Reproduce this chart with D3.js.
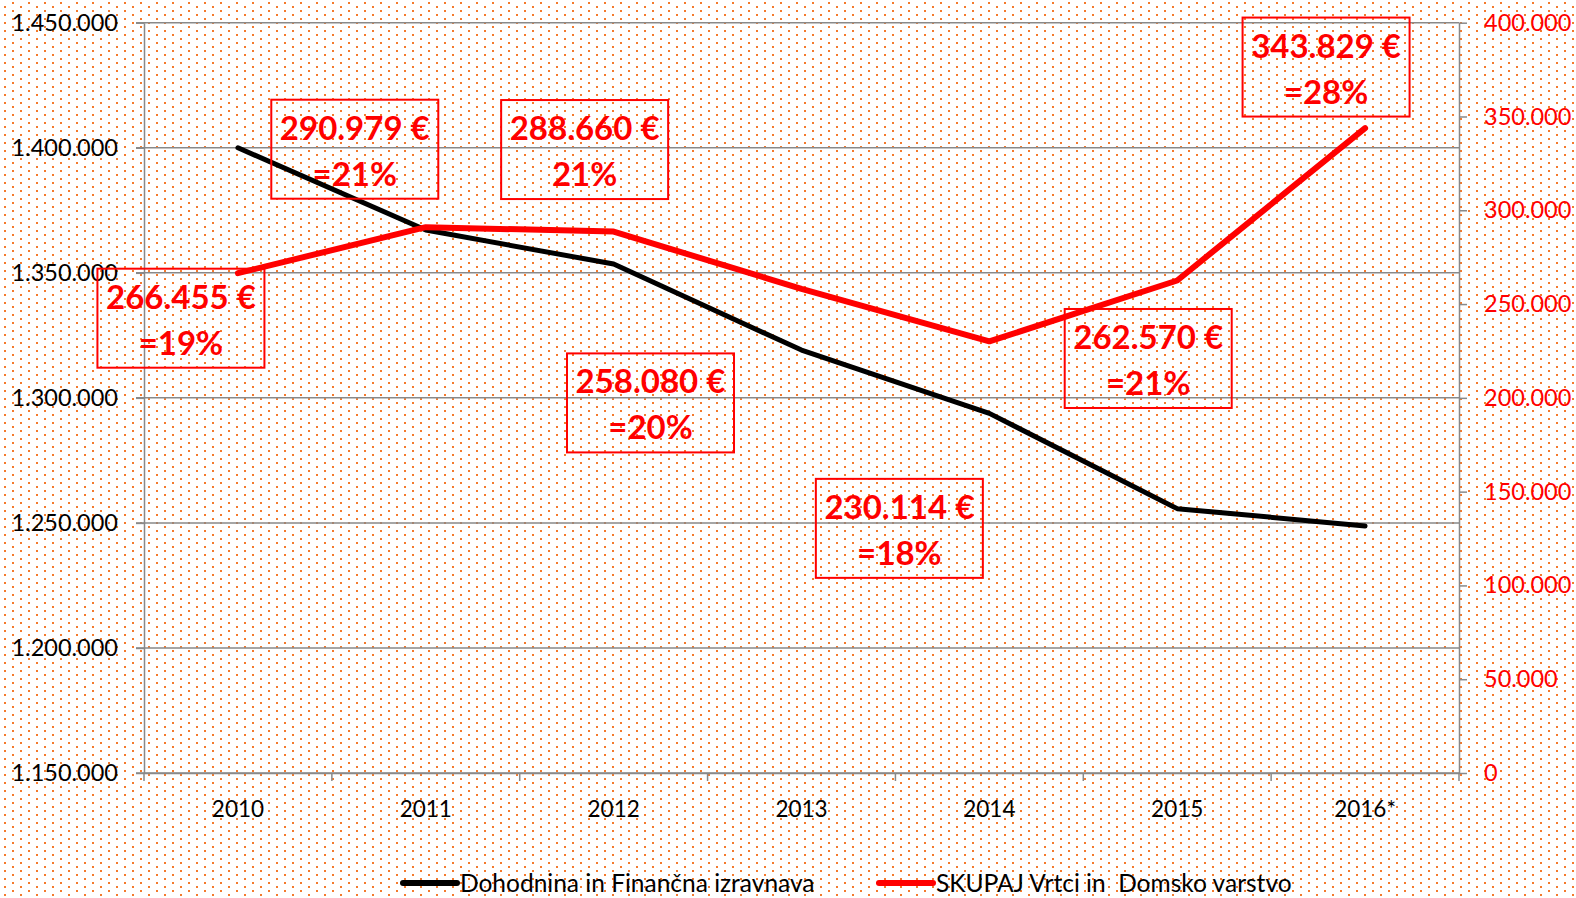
<!DOCTYPE html>
<html>
<head>
<meta charset="utf-8">
<script src="https://cdn.jsdelivr.net/npm/d3@7"></script>
<style>
  body { margin: 0; background: #fff; overflow: hidden; }
  text { font-family: Lato, "Open Sans", sans-serif; }
</style>
</head>
<body>
<div id="container"></div>
<script>
// data
let years = ["2010", "2011", "2012", "2013", "2014", "2015", "2016*"];
let dohodnina = [1400000, 1367100, 1353500, 1319100, 1293800, 1255700, 1248800];
let vrtci = [266455, 290979, 288660, 258080, 230114, 262570, 343829];
let shares = ["=19%", "=21%", "21%", "=20%", "=18%", "=21%", "=28%"];
let leftTicks = [1150000, 1200000, 1250000, 1300000, 1350000, 1400000, 1450000];
let rightTicks = [0, 50000, 100000, 150000, 200000, 250000, 300000, 350000, 400000];
let seriesNames = ["Dohodnina in Finančna izravnava", "SKUPAJ Vrtci in  Domsko varstvo"];

// where each value box sits, relative to its point (box centre)
let labelOffsets = [[-57, 45], [-71, -78], [-29, -82], [-151, 114], [-90, 187], [-29, 78], [-39, -61]];

let W = 1576, H = 898;
let plotLeft = 144, plotRight = 1459, plotTop = 22.7, plotBottom = 773;
let grey = "#898989";

let loc = d3.formatLocale({decimal: ",", thousands: ".", grouping: [3], currency: ["", " €"]});
let fmt = loc.format(",");

let svg = d3.select("#container")
    .append("svg")
    .attr("width", W)
    .attr("height", H);

// dotted background
let pat = svg.append("defs").append("pattern")
    .attr("id", "dots")
    .attr("patternUnits", "userSpaceOnUse")
    .attr("width", 16)
    .attr("height", 8);
pat.append("rect").attr("x", 4).attr("y", 6).attr("width", 2).attr("height", 2).attr("fill", "#f47a2c");
pat.append("rect").attr("x", 12).attr("y", 2).attr("width", 2).attr("height", 2).attr("fill", "#f47a2c");
svg.append("rect").attr("width", W).attr("height", H).attr("fill", "#fff");
svg.append("rect").attr("width", W).attr("height", H).attr("fill", "url(#dots)");

let x = d3.scaleBand().domain(years).range([plotLeft, plotRight]);
let yL = d3.scaleLinear().domain([1150000, 1450000]).range([plotBottom, plotTop]);
let yR = d3.scaleLinear().domain([0, 400000]).range([plotBottom, plotTop]);

// gridlines
svg.append("g")
    .attr("class", "grid")
    .selectAll("line")
    .data(leftTicks)
    .enter()
    .append("line")
    .attr("x1", plotLeft - 8)
    .attr("x2", plotRight)
    .attr("y1", d => yL(d))
    .attr("y2", d => yL(d));

// left axis
let gl = svg.append("g")
    .attr("transform", `translate(${plotLeft},0)`)
    .call(d3.axisLeft(yL).tickValues(leftTicks).tickFormat(fmt).tickSize(8).tickSizeOuter(0).tickPadding(18));
gl.selectAll("text").attr("font-size", 23.5).attr("fill", "#000");

// right axis
let gr = svg.append("g")
    .attr("transform", `translate(${plotRight},0)`)
    .call(d3.axisRight(yR).tickValues(rightTicks).tickFormat(fmt).tickSize(8).tickSizeOuter(0).tickPadding(17));
gr.selectAll("text").attr("font-size", 23.5).attr("fill", "#ff0000");

// bottom axis, labels in the middle of each category
let gb = svg.append("g")
    .attr("transform", `translate(0,${plotBottom})`)
    .call(d3.axisBottom(x).tickSize(0).tickSizeOuter(0));
gb.selectAll("text")
    .attr("font-size", 22.5)
    .attr("fill", "#000")
    .attr("y", 44)
    .attr("dy", 0);
// category boundary ticks
let edges = years.map(d => x(d)).concat([plotRight]);
gb.append("g")
    .selectAll("line")
    .data(edges)
    .enter()
    .append("line")
    .attr("x1", d => d)
    .attr("x2", d => d)
    .attr("y1", 0)
    .attr("y2", 8);

svg.selectAll(".domain, line").attr("stroke", grey).attr("stroke-width", 1.5);

// lines
let cx = d => x(d) + x.bandwidth() / 2;
let lineL = d3.line().x((d, i) => cx(years[i])).y(d => yL(d));
let lineR = d3.line().x((d, i) => cx(years[i])).y(d => yR(d));

svg.append("path")
    .attr("d", lineL(dohodnina))
    .attr("fill", "none")
    .attr("stroke", "#000")
    .attr("stroke-width", 5)
    .attr("stroke-linejoin", "round")
    .attr("stroke-linecap", "round");

svg.append("path")
    .attr("d", lineR(vrtci))
    .attr("fill", "none")
    .attr("stroke", "#ff0000")
    .attr("stroke-width", 6)
    .attr("stroke-linejoin", "round")
    .attr("stroke-linecap", "round");

// value boxes
let boxW = 167, boxH = 99;
let boxes = svg.append("g")
    .selectAll("g")
    .data(vrtci)
    .enter()
    .append("g")
    .attr("transform", (d, i) => {
        let bx = cx(years[i]) + labelOffsets[i][0] - boxW / 2;
        let by = yR(d) + labelOffsets[i][1] - boxH / 2;
        return `translate(${bx},${by})`;
    });
boxes.append("rect")
    .attr("width", boxW)
    .attr("height", boxH)
    .attr("fill", "none")
    .attr("stroke", "#ff0000")
    .attr("stroke-width", 2);
boxes.append("text")
    .attr("x", boxW / 2)
    .attr("y", 40)
    .attr("text-anchor", "middle")
    .attr("font-size", 33)
    .attr("font-weight", "bold")
    .attr("fill", "#ff0000")
    .text(d => fmt(d) + " €");
boxes.append("text")
    .attr("x", boxW / 2)
    .attr("y", 86)
    .attr("text-anchor", "middle")
    .attr("font-size", 33)
    .attr("font-weight", "bold")
    .attr("fill", "#ff0000")
    .text((d, i) => shares[i]);

// legend
let legendX = [403, 879];
let legendColors = ["#000", "#ff0000"];
let lg = svg.append("g")
    .selectAll("g")
    .data(seriesNames)
    .enter()
    .append("g")
    .attr("transform", (d, i) => `translate(${legendX[i]},883)`);
lg.append("line")
    .attr("x1", 0)
    .attr("x2", 54)
    .attr("stroke", (d, i) => legendColors[i])
    .attr("stroke-width", 6)
    .attr("stroke-linecap", "round");
lg.append("text")
    .attr("x", 57)
    .attr("y", 9)
    .attr("font-size", 24.5)
    .attr("fill", "#000")
    .style("white-space", "pre")
    .text(d => d);
</script>
</body>
</html>
